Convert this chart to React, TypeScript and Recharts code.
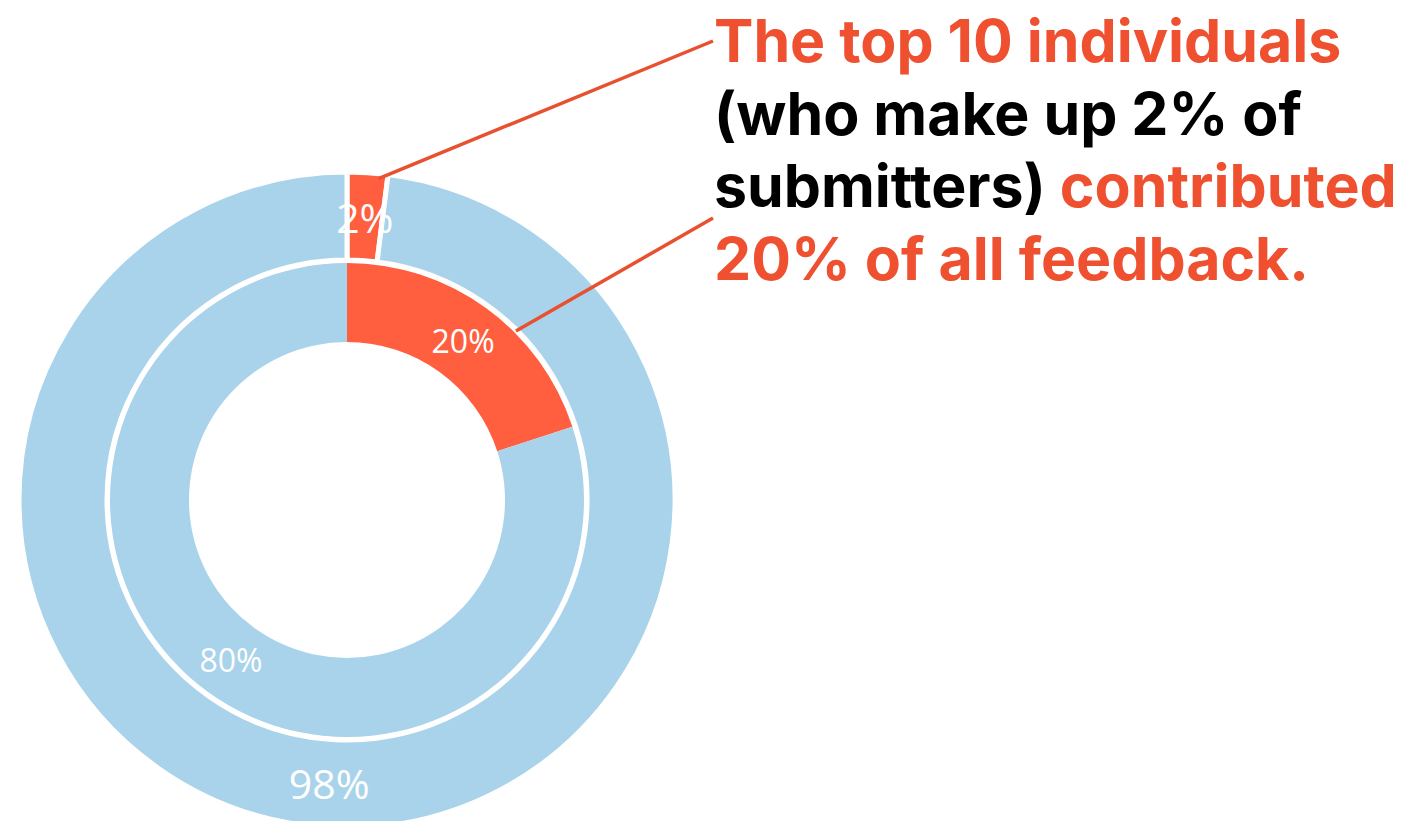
import React from "react";
import { PieChart, Pie, Cell } from "recharts";

const outerNames = ["Top 10 individuals", "Everyone else"];
const outerValues = [2, 98];
const innerNames = ["Top 10 feedback", "Other feedback"];
const innerValues = [20, 80];
const sliceColors = ["#FF5F3F", "#A9D3EB"];
const headlineLines = [
  [{ t: "The top 10 individuals", c: "orange" }],
  [{ t: "(who make up 2% of", c: "black" }],
  [{ t: "submitters) ", c: "black" }, { t: "contributed", c: "orange" }],
  [{ t: "20% of all feedback.", c: "orange" }],
];

const outerData = outerNames.map((name, i) => ({ name, value: outerValues[i] }));
const innerData = innerNames.map((name, i) => ({ name, value: innerValues[i] }));

const W = 1411;
const H = 821;
const CX = 347;
const CY = 500;
const INNER_R = [158, 237];
const OUTER_R = [240, 328];
const RAD = Math.PI / 180;
const TEXT_ORANGE = "#EE5030";
const LINE_ORANGE = "#E8502F";

const polar = (cx: number, cy: number, r: number, angle: number) => ({
  x: cx + r * Math.cos(-angle * RAD),
  y: cy + r * Math.sin(-angle * RAD),
});

const makeLabel =
  (ring: "inner" | "outer") =>
  (props: any) => {
    const { cx, cy, midAngle, index, value } = props;
    const radii = ring === "inner" ? INNER_R : OUTER_R;
    const r = (radii[0] + radii[1]) / 2;
    const p = polar(cx, cy, r, midAngle);
    const fontSize = ring === "inner" ? 32 : 41;
    let leader: React.ReactNode = null;
    if (index === 0) {
      if (ring === "outer") {
        const s = polar(cx, cy, 323, midAngle - 2);
        leader = <line x1={s.x} y1={s.y} x2={713} y2={41} stroke={LINE_ORANGE} strokeWidth={3.5} />;
      } else {
        const s = polar(cx, cy, 239, midAngle - 9);
        leader = <line x1={s.x} y1={s.y} x2={713} y2={218} stroke={LINE_ORANGE} strokeWidth={3.5} />;
      }
    }
    return (
      <g>
        {leader}
        <text
          x={p.x}
          y={p.y}
          fill="#FFFFFF"
          textAnchor="middle"
          dominantBaseline="central"
          fontFamily="'Open Sans', sans-serif"
          fontSize={fontSize}
        >
          {`${value}%`}
        </text>
      </g>
    );
  };

const baselines = [62, 135, 207, 280];

export default function App() {
  return (
    <div style={{ position: "absolute", left: 0, top: 0, width: W, height: H, background: "#fff" }}>
      <PieChart width={W} height={H} margin={{ top: 0, right: 0, bottom: 0, left: 0 }}>
        <Pie
          data={innerData}
          dataKey="value"
          cx={CX}
          cy={CY}
          innerRadius={INNER_R[0]}
          outerRadius={INNER_R[1]}
          startAngle={90}
          endAngle={-270}
          stroke="none"
          label={makeLabel("inner")}
          labelLine={false}
          isAnimationActive={false}
        >
          {innerData.map((d, i) => (
            <Cell key={d.name} fill={sliceColors[i]} />
          ))}
        </Pie>
        <Pie
          data={outerData}
          dataKey="value"
          cx={CX}
          cy={CY}
          innerRadius={OUTER_R[0]}
          outerRadius={OUTER_R[1]}
          startAngle={90}
          endAngle={-270}
          stroke="#FFFFFF"
          strokeWidth={5}
          label={makeLabel("outer")}
          labelLine={false}
          isAnimationActive={false}
        >
          {outerData.map((d, i) => (
            <Cell key={d.name} fill={sliceColors[i]} />
          ))}
        </Pie>
      </PieChart>
      <svg width={W} height={H} style={{ position: "absolute", left: 0, top: 0, pointerEvents: "none" }}>
        {headlineLines.map((line, li) => (
          <text
            key={li}
            x={714}
            y={baselines[li]}
            fontFamily="Inter, sans-serif"
            fontWeight={700}
            fontSize={59}
          >
            {line.map((seg, si) => (
              <tspan key={si} fill={seg.c === "orange" ? TEXT_ORANGE : "#000"}>
                {seg.t}
              </tspan>
            ))}
          </text>
        ))}
      </svg>
    </div>
  );
}
